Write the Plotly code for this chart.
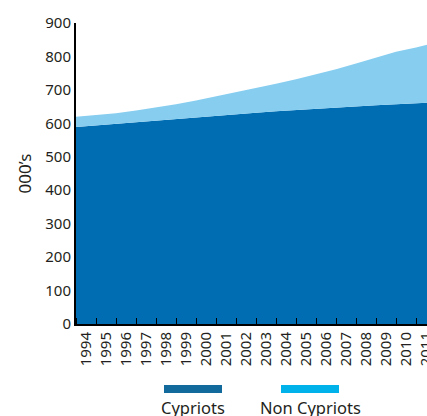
import plotly.graph_objects as go

# Population of Cyprus (thousands), by year
years = list(range(1994, 2013))
cypriots = [589, 594, 599, 604, 609, 614, 619, 624, 628, 632, 636, 640, 644, 647, 651, 654, 657, 660, 663]
non_cypriots = [31, 30, 31, 34, 38, 43, 49, 56, 64, 73, 82, 92, 102, 115, 128, 143, 157, 167, 178]
tick_years = list(range(1994, 2012))
y_ticks = list(range(0, 1000, 100))

AREA_DARK = "#006db3"
AREA_LIGHT = "#86cdf0"
LEGEND_DARK = "#12699c"
LEGEND_LIGHT = "#00b2ea"
FONT = "Noto Sans"
TEXT = "#231f20"

fig = go.Figure()
fig.add_trace(go.Scatter(
    x=years, y=cypriots, name="Cypriots", stackgroup="pop",
    mode="lines", line=dict(width=0, color=AREA_DARK), fillcolor=AREA_DARK,
))
fig.add_trace(go.Scatter(
    x=years, y=non_cypriots, name="Non Cypriots", stackgroup="pop",
    mode="lines", line=dict(width=0, color=AREA_LIGHT), fillcolor=AREA_LIGHT,
))

W, H = 427, 416
L, R, T, B = 76, 0, 23, 92
pw, ph = W - L - R, H - T - B


def px(x):
    return (x - L) / pw


def py(y):
    return (H - B - y) / ph


fig.update_layout(
    width=W, height=H,
    margin=dict(l=L, r=R, t=T, b=B, autoexpand=False),
    paper_bgcolor="white", plot_bgcolor="white",
    showlegend=False,
    font=dict(family=FONT, color=TEXT, size=15),
    xaxis=dict(
        range=[1994, 2011.55], automargin=False,
        tickvals=[y + 0.5 for y in tick_years],
        ticktext=[str(y) for y in tick_years],
        tickangle=-90, ticks="", showgrid=False, zeroline=False,
        showline=True, linecolor="black", linewidth=2,
        ticklabeloverflow="allow",
        tickfont=dict(size=15, color=TEXT),
        minor=dict(tickvals=tick_years, ticks="inside", ticklen=6,
                   tickwidth=1, tickcolor="black", showgrid=False),
    ),
    yaxis=dict(
        range=[0, 900], tickvals=y_ticks, ticks="", automargin=False,
        showgrid=False, zeroline=False,
        showline=True, linecolor="black", linewidth=2,
        tickfont=dict(size=15, color=TEXT),
    ),
)

# Axis title
fig.add_annotation(
    text="000’s", xref="paper", yref="paper", x=px(24), y=0.5,
    textangle=-90, showarrow=False, font=dict(size=17, color=TEXT),
    xanchor="center", yanchor="middle",
)

# Legend: colour bars with labels underneath
legend_items = [("Cypriots", LEGEND_DARK, 164, 222), ("Non Cypriots", LEGEND_LIGHT, 281, 339)]
for label, color, x0, x1 in legend_items:
    fig.add_shape(
        type="rect", xref="paper", yref="paper",
        x0=px(x0), x1=px(x1), y0=py(385), y1=py(393),
        fillcolor=color, line=dict(width=0),
    )
    fig.add_annotation(
        text=label, xref="paper", yref="paper", x=px((x0 + x1) / 2), y=py(407),
        showarrow=False, font=dict(size=16.5, color=TEXT),
        xanchor="center", yanchor="middle",
    )

fig.write_html("out.html")
